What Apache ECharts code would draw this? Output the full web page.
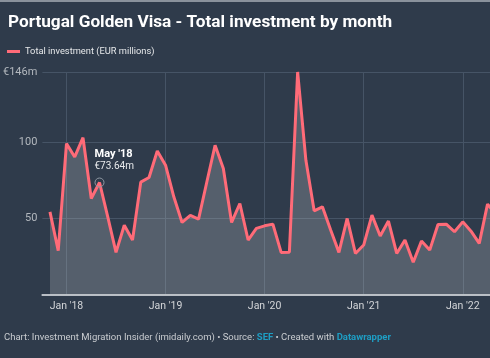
<!DOCTYPE html>
<html><head><meta charset="utf-8">
<script src="https://cdn.jsdelivr.net/npm/echarts@6/dist/echarts.min.js"></script>
<style>html,body{margin:0;padding:0;background:#2f3b4b;}#c{width:490px;height:358px;}</style>
</head><body><div id="c"></div>
<script>
// months indexed from Jan 2018 = 0 (Nov 2017 = -2)
const startIndex = -2;
const values = [54.4, 29, 99.1, 90.4, 103, 63.2, 73.64, 51.2, 27.9, 45.7, 36, 73.9, 76.9, 94.3,
  85, 64.3, 47.5, 52.1, 49.7, 74, 98, 82.8, 47.5, 59.9, 36, 43.6,
  45.3, 46.4, 27.9, 28, 146, 88.2, 55.1, 57.7, 42.5, 27.9, 50.1, 27.2,
  32.7, 52.3, 38.6, 48.4, 27.2, 36, 21.4, 35.3, 29.4, 46.2, 46.4, 41.4,
  47.9, 41.8, 33.8, 59.5, 53];
const xTickValues = [0, 12, 24, 36, 48];
const xTickLabels = ["Jan '18", "Jan '19", "Jan '20", "Jan '21", "Jan '22"];
const yTickValues = [50, 100, 146];
const yTickLabels = ["50", "100", "€146m"];
const annotation = {index: 4, label: "May '18", value: "€73.64m"};

const seriesData = values.map((v, i) => [startIndex + i, v]);
const chart = echarts.init(document.getElementById('c'), null, {renderer: 'canvas'});
const font = 'Roboto, "Noto Sans", sans-serif';
chart.setOption({
  backgroundColor: '#2f3b4b',
  animation: false,
  title: {
    text: 'Portugal Golden Visa - Total investment by month',
    left: 3, top: 9,
    textStyle: {color: '#ffffff', fontSize: 17.2, fontWeight: 'bold', fontFamily: font}
  },
  legend: {
    left: 2, top: 42, itemWidth: 13, itemHeight: 3, itemGap: 5,
    icon: 'rect',
    textStyle: {color: '#e6e8ea', fontSize: 9.3, fontFamily: font},
    data: [{name: 'Total investment (EUR millions)', itemStyle: {color: '#ff6b78'}}]
  },
  grid: {left: 38, right: 0, top: 72, bottom: 63},
  xAxis: {
    type: 'value', min: -2.92, max: 51.3,
    axisLine: {show: true, lineStyle: {color: '#b9bec5', width: 2}},
    axisTick: {show: false, customValues: xTickValues},
    axisLabel: {customValues: xTickValues, color: '#d4d6d9', fontSize: 10.5, fontFamily: font, margin: 6,
      formatter: v => xTickLabels[xTickValues.indexOf(v)] || ''},
    splitLine: {show: true, lineStyle: {color: '#465466', width: 1}}
  },
  yAxis: {
    type: 'value', min: 0, max: 146,
    axisLine: {show: false},
    axisTick: {show: false, customValues: yTickValues},
    axisLabel: {customValues: yTickValues, color: '#b3b8be', fontSize: 11, fontFamily: font, margin: 5,
      verticalAlign: 'middle',
      formatter: v => yTickLabels[yTickValues.indexOf(v)] || ''},
    splitLine: {show: true, lineStyle: {color: '#465466', width: 1}}
  },
  series: [{
    name: 'Total investment (EUR millions)',
    type: 'line',
    data: seriesData,
    showSymbol: false,
    symbol: 'none',
    lineStyle: {color: '#ff6b78', width: 3},
    itemStyle: {color: '#ff6b78'},
    areaStyle: {color: 'rgba(200,203,208,0.36)'},
    clip: true,
    markPoint: {
      symbol: 'circle', symbolSize: 9,
      itemStyle: {color: 'rgba(0,0,0,0)', borderColor: '#8f98a3', borderWidth: 1},
      data: [{coord: [annotation.index, values[annotation.index - startIndex]]}],
      label: {
        show: true, position: 'top', distance: 5, align: 'left', offset: [-5, 0],
        formatter: '{a|' + annotation.label + '}\n{b|' + annotation.value + '}',
        rich: {
          a: {color: '#ffffff', fontSize: 11, fontWeight: 'bold', fontFamily: font, lineHeight: 13},
          b: {color: '#e8eaec', fontSize: 10, fontFamily: font, lineHeight: 12}
        }
      }
    }
  }],
  graphic: [
    {type: 'rect', left: 0, top: 0, shape: {width: 490, height: 2}, style: {fill: '#8a929c'}},
    {type: 'text', left: 4, top: 333,
      style: {
        text: '{n|Chart: Investment Migration Insider (imidaily.com) • Source: }{l|SEF}{n| • Created with }{l|Datawrapper}',
        rich: {
          n: {fill: '#c9ccd0', fontSize: 9.5, fontFamily: font},
          l: {fill: '#1e9ec4', fontSize: 9.5, fontFamily: font, fontWeight: 'bold'}
        }
      }}
  ]
});
</script></body></html>
